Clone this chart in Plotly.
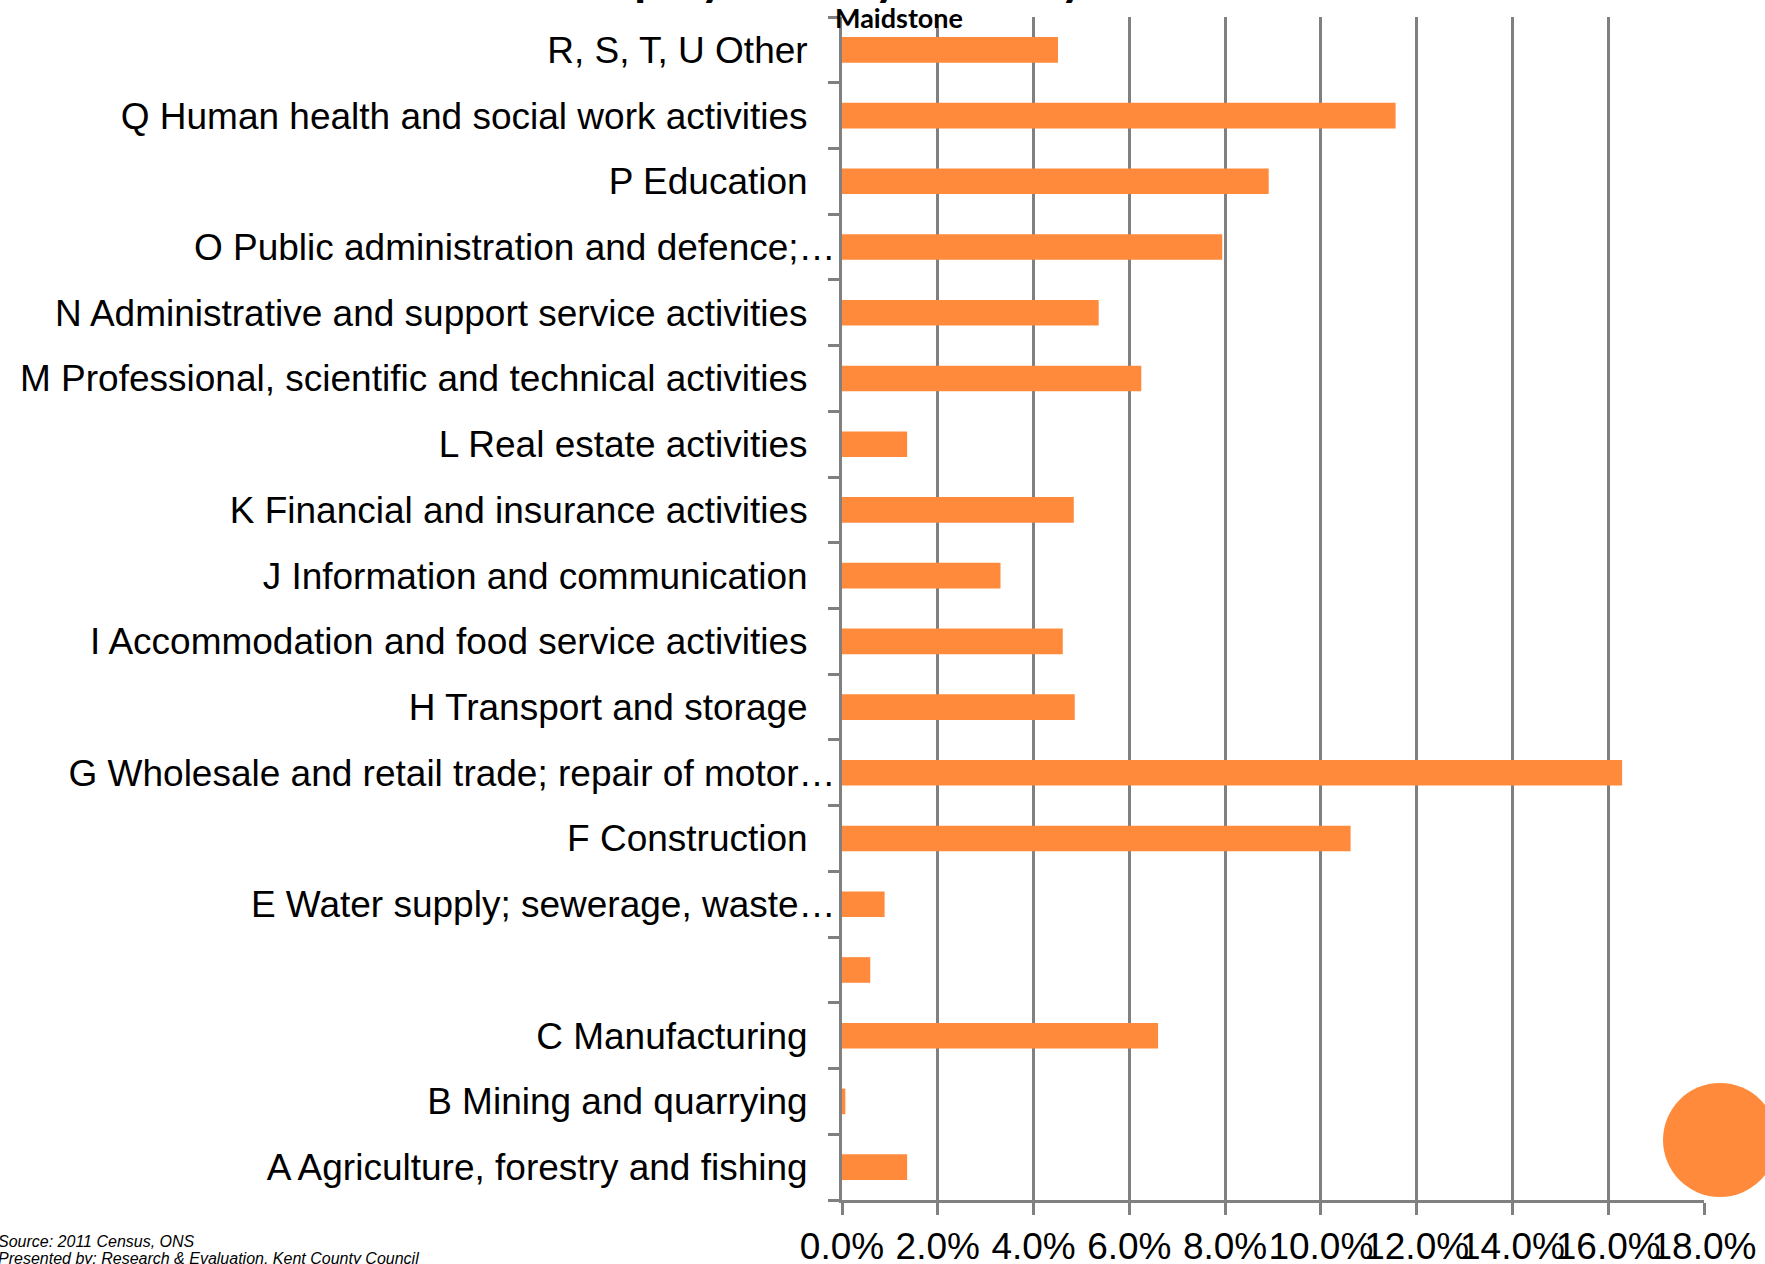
import plotly.graph_objects as go

categories = [
    "A Agriculture, forestry and fishing",
    "B Mining and quarrying",
    "C Manufacturing",
    "D Electricity, gas, steam and air conditioning supply",
    "E Water supply; sewerage, waste management",
    "F Construction",
    "G Wholesale and retail trade; repair of motor vehicles",
    "H Transport and storage",
    "I Accommodation and food service activities",
    "J Information and communication",
    "K Financial and insurance activities",
    "L Real estate activities",
    "M Professional, scientific and technical activities",
    "N Administrative and support service activities",
    "O Public administration and defence; compulsory social security",
    "P Education",
    "Q Human health and social work activities",
    "R, S, T, U Other",
]
tick_labels = [
    "A Agriculture, forestry and fishing",
    "B Mining and quarrying",
    "C Manufacturing",
    "",
    "E Water supply; sewerage, waste…",
    "F Construction",
    "G Wholesale and retail trade; repair of motor…",
    "H Transport and storage",
    "I Accommodation and food service activities",
    "J Information and communication",
    "K Financial and insurance activities",
    "L Real estate activities",
    "M Professional, scientific and technical activities",
    "N Administrative and support service activities",
    "O Public administration and defence;…",
    "P Education",
    "Q Human health and social work activities",
    "R, S, T, U Other",
]
maidstone = [0.0136, 0.0007, 0.0660, 0.0059, 0.0089, 0.1062, 0.1629, 0.0486,
             0.0461, 0.0331, 0.0484, 0.0136, 0.0625, 0.0536, 0.0794, 0.0891,
             0.1156, 0.0451]
x_ticks = [0, 0.02, 0.04, 0.06, 0.08, 0.10, 0.12, 0.14, 0.16, 0.18]

ORANGE = "#FF8A3B"
GREY = "#808080"
FONT = "Liberation Sans, Arial, sans-serif"
W, H = 1765, 1264
L, R, T, B = 842, 61, 17, 64
PW, PH = W - L - R, H - T - B


def px(x):  # page pixel -> paper
    return (x - L) / PW


def py(y):  # page pixel -> paper
    return (H - B - y) / PH


pad = "\u00a0\u00a0\u2009"
ticktext = [t if (t.endswith("…") or t == "") else t + pad for t in tick_labels]

fig = go.Figure()
fig.add_trace(go.Bar(
    x=maidstone, y=categories, orientation="h",
    marker=dict(color=ORANGE, line=dict(width=0)),
    name="Maidstone",
))

fig.update_layout(
    width=W, height=H,
    margin=dict(l=L, r=R, t=T, b=B, pad=0),
    paper_bgcolor="white", plot_bgcolor="white",
    showlegend=False,
    bargap=0.61,
    font=dict(family=FONT, color="black", size=37),
)
fig.update_xaxes(
    range=[0, 0.18], tickvals=x_ticks, tickformat=".1%",
    showgrid=True, gridcolor=GREY, gridwidth=2.5,
    showline=True, linecolor=GREY, linewidth=3,
    ticks="outside", ticklen=12, tickwidth=2.5, tickcolor=GREY,
    zeroline=False, tickfont=dict(size=37, family=FONT), tickangle=0,
    automargin=False,
)
fig.update_yaxes(
    type="category", categoryorder="array", categoryarray=categories,
    tickmode="array", tickvals=categories, ticktext=ticktext,
    tickson="boundaries", ticks="outside", ticklen=11, tickwidth=2.5, tickcolor=GREY,
    showline=True, linecolor=GREY, linewidth=3,
    showgrid=False, zeroline=False,
    tickfont=dict(size=37, family=FONT), ticklabelstandoff=-4,
    range=[-0.5, len(categories) - 0.5],
    automargin=False,
)

# decorative circle
fig.add_shape(type="circle", xref="paper", yref="paper",
              x0=px(1663), x1=px(1777), y0=py(1197), y1=py(1083),
              fillcolor=ORANGE, line=dict(width=0), layer="below")

fig.add_annotation(text="<b>Employment by industry</b>", xref="paper", yref="paper",
                   x=px(826), y=py(7), xanchor="center", yanchor="bottom",
                   showarrow=False, font=dict(family="Lato, Open Sans", size=48, color="black"))
fig.add_annotation(text="<b>Maidstone</b>", xref="paper", yref="paper",
                   x=px(833), y=py(18), xanchor="left", yanchor="middle",
                   showarrow=False, font=dict(family="Lato, Open Sans", size=27, color="black"))
fig.add_annotation(text="<i>Source: 2011 Census, ONS</i>", xref="paper", yref="paper",
                   x=px(-4), y=py(1241), xanchor="left", yanchor="middle",
                   showarrow=False, font=dict(size=16, color="black", family=FONT))
fig.add_annotation(text="<i>Presented by: Research &amp; Evaluation, Kent County Council</i>", xref="paper", yref="paper",
                   x=px(-4), y=py(1258), xanchor="left", yanchor="middle",
                   showarrow=False, font=dict(size=16, color="black", family=FONT))

fig.write_html("out.html", config={"displayModeBar": False},
               post_script="document.body.style.margin='0px';")
